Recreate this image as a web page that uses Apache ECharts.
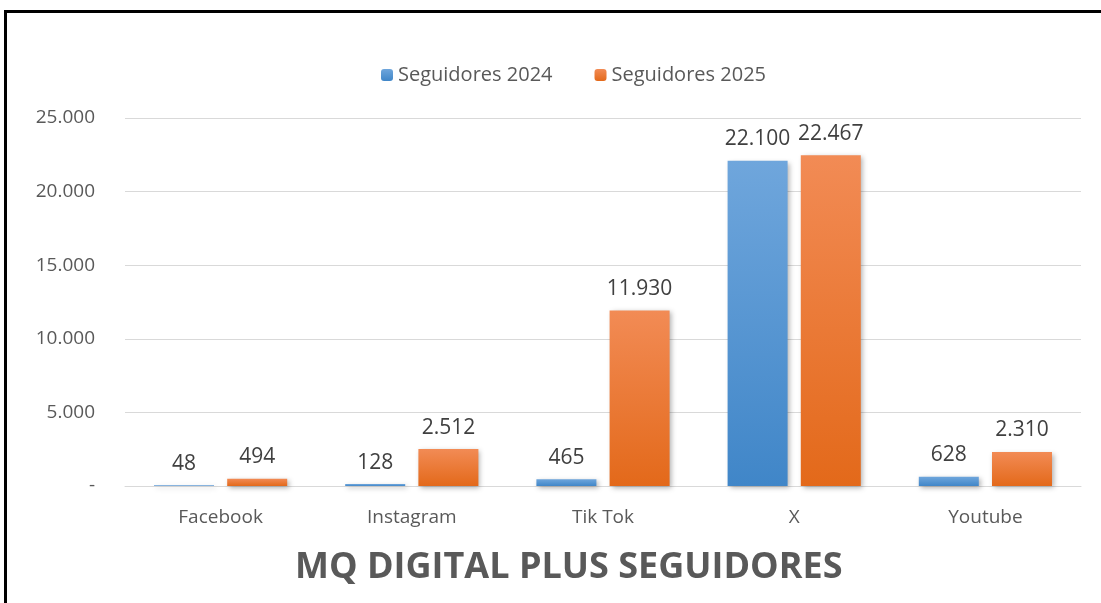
<!DOCTYPE html>
<html>
<head>
    <meta charset="utf-8">
    <title>MQ Digital Plus Seguidores</title>
    <script src="https://cdn.jsdelivr.net/npm/echarts@6/dist/echarts.min.js"></script>
    <style>
        html, body { margin: 0; padding: 0; width: 1101px; height: 603px; overflow: hidden; background: #fff; }
        #frame { position: absolute; left: 4px; top: 10px; width: 1200px; height: 700px; border: 3px solid #000; box-sizing: border-box; }
        #main { position: absolute; left: 0; top: 0; width: 1101px; height: 603px; }
    </style>
</head>
<body>
<div id="frame"></div>
<div id="main"></div>
<script type="text/javascript">
    // redes sociales
    var redes = ['Facebook', 'Instagram', 'Tik Tok', 'X', 'Youtube']
    var seg2024 = [48, 128, 465, 22100, 628]
    var seg2025 = [494, 2512, 11930, 22467, 2310]
    var nombres = ['Seguidores 2024', 'Seguidores 2025']

    var fuente = '"Open Sans", "Liberation Sans", sans-serif'

    // formato con punto de miles
    function miles(v) {
        if (v === 0) return '-'
        return String(v).replace(/\B(?=(\d{3})+(?!\d))/g, '.')
    }

    function grad(top, bottom) {
        return new echarts.graphic.LinearGradient(0, 0, 0, 1, [
            { offset: 0, color: top },
            { offset: 1, color: bottom }
        ])
    }

    var myChart = echarts.init(document.getElementById('main'))

    var etiqueta = {
        show: true,
        position: 'top',
        distance: 11,
        color: '#404040',
        fontSize: 21,
        fontFamily: fuente,
        formatter: function (p) { return miles(p.value) }
    }

    var option = {
        animation: false,
        title: {
            text: 'MQ DIGITAL PLUS SEGUIDORES',
            left: 290,
            top: 545,
            textStyle: { color: '#595959', fontSize: 36, fontWeight: 'bold', fontFamily: fuente }
        },
        legend: {
            data: nombres,
            left: 376,
            top: 60,
            itemWidth: 12,
            itemHeight: 12,
            itemGap: 42,
            textStyle: { color: '#595959', fontSize: 20, fontFamily: fuente }
        },
        grid: { left: 125, right: 20, top: 118, bottom: 117, containLabel: false },
        xAxis: {
            type: 'category',
            data: redes,
            axisLine: { lineStyle: { color: '#d9d9d9', width: 1 } },
            axisTick: { show: false },
            axisLabel: { color: '#595959', fontSize: 19, fontFamily: fuente, margin: 22 }
        },
        yAxis: {
            type: 'value',
            min: 0,
            max: 25000,
            interval: 5000,
            axisLine: { show: false },
            axisTick: { show: false },
            splitLine: { lineStyle: { color: '#d9d9d9', width: 1 } },
            axisLabel: {
                color: '#595959', fontSize: 19, fontFamily: fuente, margin: 30,
                formatter: function (v) { return miles(v) }
            }
        },
        series: [{
            name: nombres[0],
            type: 'bar',
            data: seg2024,
            barWidth: 60,
            barGap: '22%',
            itemStyle: {
                color: grad('#6fa6dc', '#4086c8'),
                shadowBlur: 5, shadowColor: 'rgba(0,0,0,0.3)', shadowOffsetX: 2, shadowOffsetY: 2
            },
            label: etiqueta
        }, {
            name: nombres[1],
            type: 'bar',
            data: seg2025,
            barWidth: 60,
            itemStyle: {
                color: grad('#f28b55', '#e3691a'),
                shadowBlur: 5, shadowColor: 'rgba(0,0,0,0.3)', shadowOffsetX: 2, shadowOffsetY: 2
            },
            label: etiqueta
        }]
    }

    myChart.setOption(option)
</script>
</body>
</html>
